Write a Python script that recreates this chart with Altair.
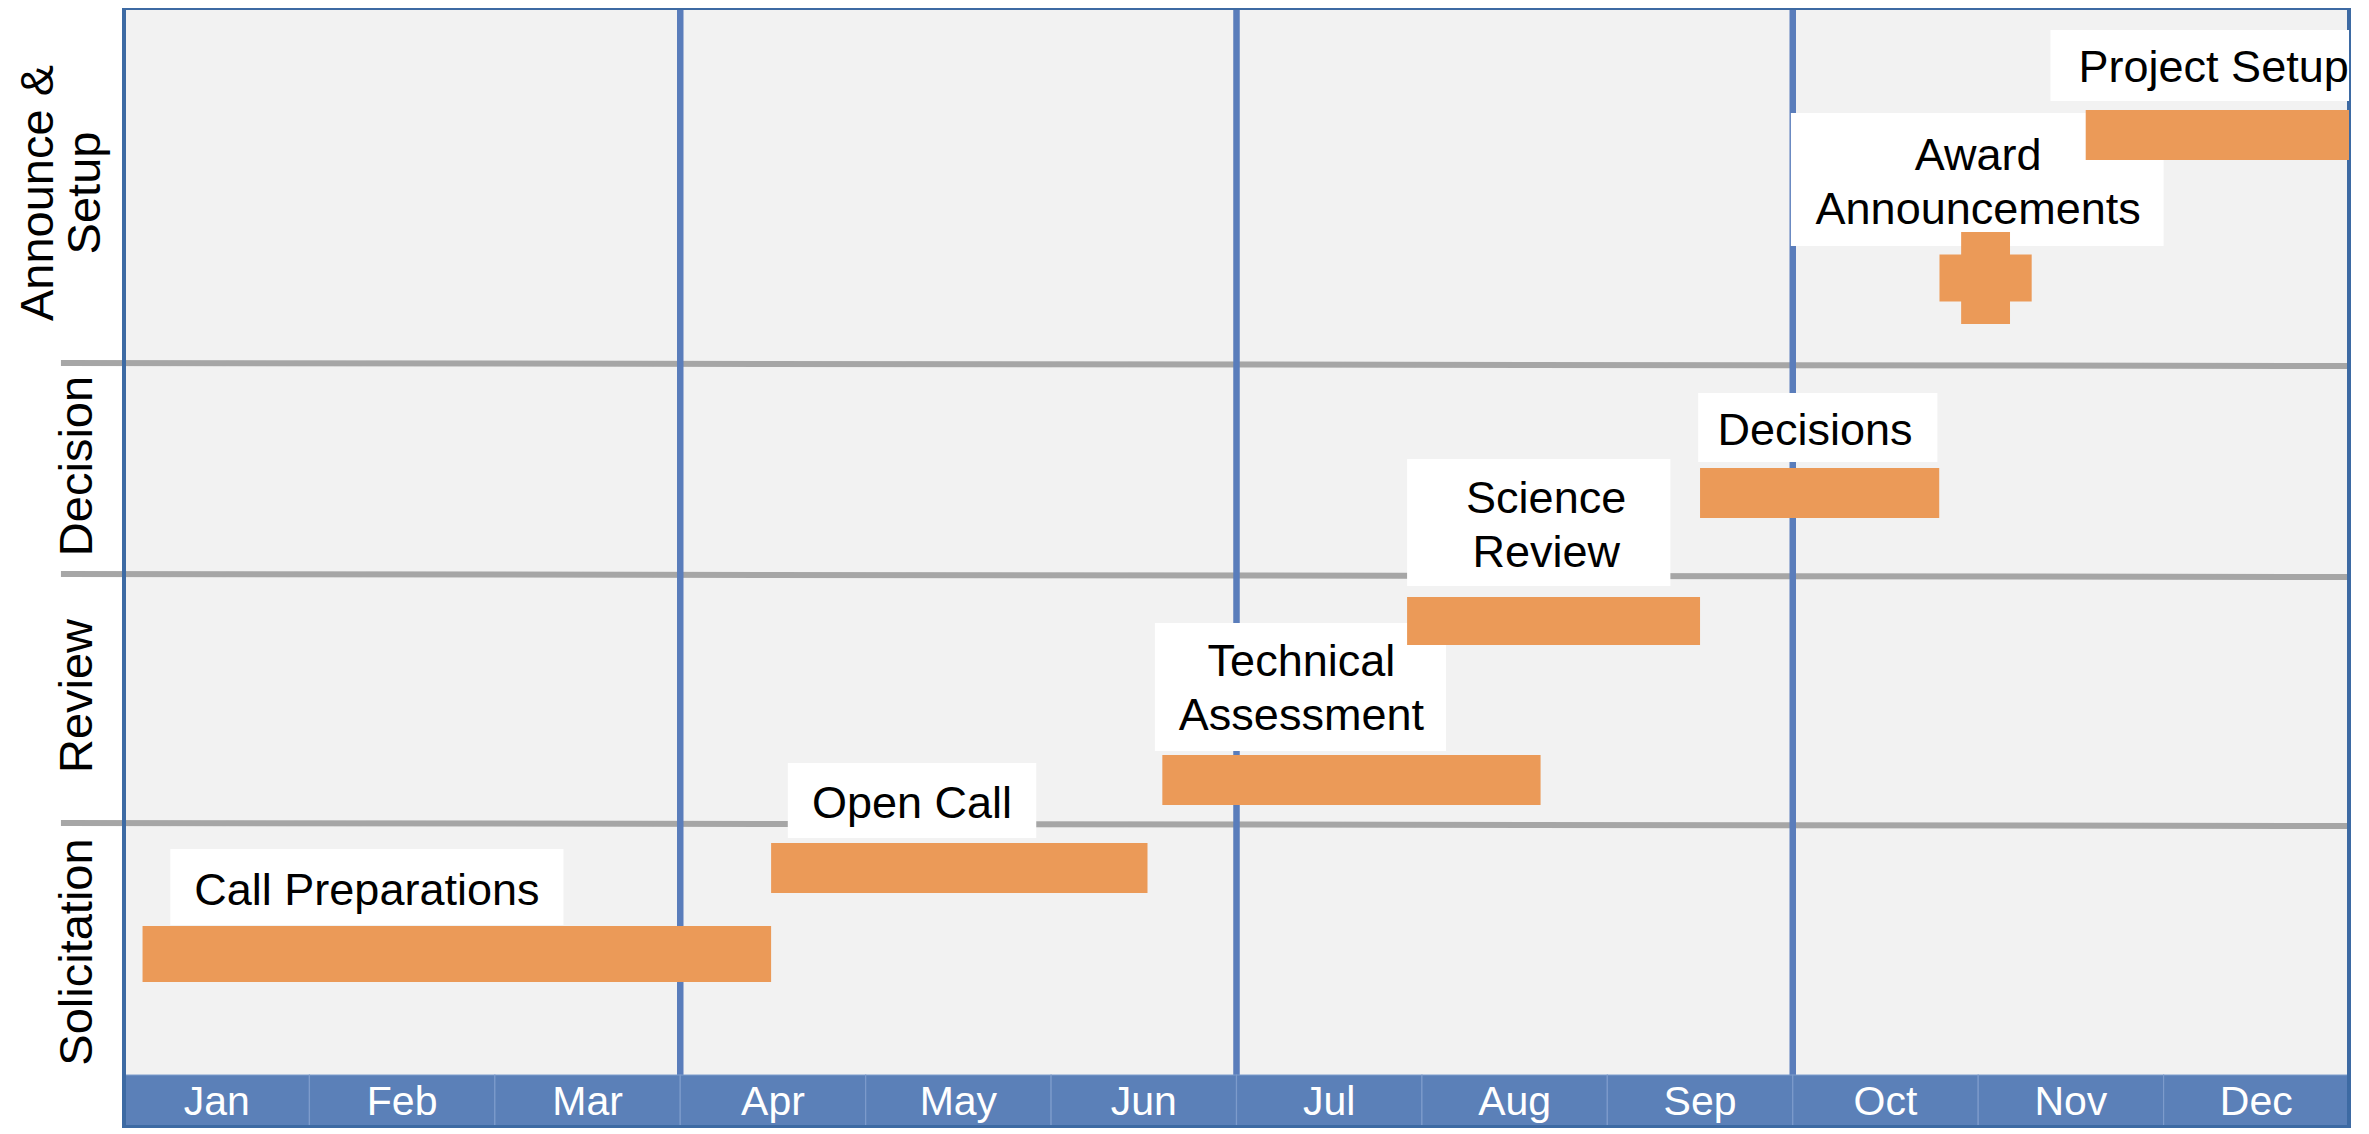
import altair as alt
import pandas as pd

# ---------------- data ----------------
months = ["Jan", "Feb", "Mar", "Apr", "May", "Jun",
          "Jul", "Aug", "Sep", "Oct", "Nov", "Dec"]

tasks = ["Call Preparations", "Open Call", "Technical Assessment",
         "Science Review", "Decisions", "Project Setup"]
task_start = [0.1, 3.49, 5.6, 6.92, 8.5, 10.58]     # month units
task_end = [3.49, 5.52, 7.64, 8.5, 9.79, 12.0]
task_top = [20.2, 28.5, 37.3, 53.1, 66.0, 101.8]   # vertical position units
task_bottom = [14.6, 23.5, 32.3, 48.3, 61.0, 96.8]

milestone_name = ["Award Announcements"]
milestone_x = [10.04]
milestone_y = [85.0]

label_text = ["Call Preparations", "Open Call", "Technical\nAssessment",
              "Science\nReview", "Decisions", "Award\nAnnouncements", "Project Setup"]
label_x = [1.31, 4.25, 6.35, 7.67, 9.12, 10.0, 11.27]
label_y = [23.7, 32.4, 46.6, 62.9, 69.7, 97.2, 106.0]
box_x1 = [0.25, 3.58, 5.56, 6.92, 8.49, 8.99, 10.39]
box_x2 = [2.37, 4.92, 7.13, 8.34, 9.78, 11.0, 12.0]
box_y1 = [20.3, 29.0, 37.7, 54.2, 66.6, 88.2, 102.7]
box_y2 = [27.9, 36.5, 50.5, 66.9, 73.5, 101.5, 109.8]

rows = ["Announce &\nSetup", "Decision", "Review", "Solicitation"]
row_label_x = [-0.46, -0.25, -0.25, -0.25]
row_label_y = [93.5, 66.2, 43.2, 17.6]

divider_left_y = [76.5, 55.4, 30.5]
divider_right_y = [76.2, 55.1, 30.2]
divider_x_left = -0.34

quarter_lines = [3, 6, 9]

band_bottom, band_top, plot_top = 0.1, 5.3, 112.0

# ---------------- frames ----------------
xs = alt.Scale(domain=[0, 12], nice=False, zero=False)
ys = alt.Scale(domain=[0, 112], nice=False, zero=False)
X = lambda f: alt.X(f, type="quantitative", scale=xs, axis=None)
Y = lambda f: alt.Y(f, type="quantitative", scale=ys, axis=None)

bg_df = pd.DataFrame({"x1": [0], "x2": [12], "y1": [band_top], "y2": [plot_top]})
month_df = pd.DataFrame({"m": months,
                         "x1": list(range(12)),
                         "x2": [i + 1 for i in range(12)],
                         "xc": [i + 0.5 for i in range(12)],
                         "y1": [band_bottom] * 12, "y2": [band_top] * 12,
                         "yc": [(band_bottom + band_top) / 2] * 12})
div_df = pd.DataFrame({"x1": [divider_x_left] * 3, "x2": [12] * 3,
                       "y1": divider_left_y, "y2": divider_right_y})
q_df = pd.DataFrame({"x": quarter_lines, "y1": [-0.5] * 3, "y2": [plot_top] * 3})
frame_df = pd.DataFrame({"x1": [0], "x2": [12], "y1": [band_bottom], "y2": [plot_top]})
task_df = pd.DataFrame({"task": tasks, "s": task_start, "e": task_end,
                        "t": task_top, "b": task_bottom})
ms_df = pd.DataFrame({"n": milestone_name, "x": milestone_x, "y": milestone_y})
lab_df = pd.DataFrame({"t": label_text, "x": label_x, "y": label_y,
                       "x1": box_x1, "x2": box_x2, "y1": box_y1, "y2": box_y2})
row_df = pd.DataFrame({"r": rows, "x": row_label_x, "y": row_label_y})

FONT = "Liberation Sans"

bg = alt.Chart(bg_df).mark_rect(color="#f2f2f2").encode(
    x=X("x1"), x2="x2", y=Y("y1"), y2="y2")

dividers = alt.Chart(div_df).mark_rule(color="#a6a6a6", strokeWidth=6).encode(
    x=X("x1"), x2="x2", y=Y("y1"), y2="y2")

band = alt.Chart(month_df).mark_rect(color="#5b80b8", stroke="#7d9bcb",
                                     strokeWidth=1.2).encode(
    x=X("x1"), x2="x2", y=Y("y1"), y2="y2")

month_text = alt.Chart(month_df).mark_text(
    color="white", font=FONT, fontSize=41,
    baseline="middle", align="center", dy=2).encode(
    x=X("xc"), y=Y("yc"), text="m")

quarters = alt.Chart(q_df).mark_rule(color="#5a7dbb", strokeWidth=6.5).encode(
    x=X("x"), y=Y("y1"), y2="y2")

frame = alt.Chart(frame_df).mark_rect(fillOpacity=0, stroke="#3d6aa3",
                                      strokeWidth=4).encode(
    x=X("x1"), x2="x2", y=Y("y1"), y2="y2")

boxes = alt.Chart(lab_df).mark_rect(color="white").encode(
    x=X("x1"), x2="x2", y=Y("y1"), y2="y2")

labels = alt.Chart(lab_df).mark_text(
    color="black", font=FONT, fontSize=45, lineBreak="\n", lineHeight=54,
    baseline="middle", align="center").encode(
    x=X("x"), y=Y("y"), text="t")

bars = alt.Chart(task_df).mark_rect(color="#eb9a58").encode(
    x=X("s"), x2="e", y=Y("b"), y2="t")

cross_path = ("M-0.53,-1H0.53V-0.51H1V0.51H0.53V1H-0.53V0.51H-1V-0.51H-0.53Z")
milestone = alt.Chart(ms_df).mark_point(
    shape=cross_path, filled=True, color="#eb9a58", opacity=1,
    size=8500, strokeWidth=0).encode(x=X("x"), y=Y("y"))

row_labels = alt.Chart(row_df).mark_text(
    color="black", font=FONT, fontSize=47, angle=270, lineBreak="\n",
    lineHeight=47, baseline="middle", align="center").encode(
    x=X("x"), y=Y("y"), text="r")

chart = alt.layer(
    bg, dividers, quarters, band, month_text, frame, boxes, bars, milestone,
    labels, row_labels
).properties(
    width=2225, height=1120,
    autosize=alt.AutoSizeParams(type="none"),
    padding={"left": 116, "top": 0, "right": 12, "bottom": 0},
).configure_view(stroke=None).configure(background="white")

chart.save("out.html", embed_options={"renderer": "svg", "actions": False})
